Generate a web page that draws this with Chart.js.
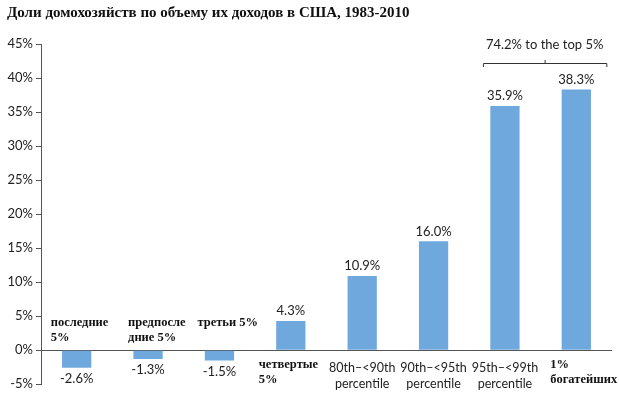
<!DOCTYPE html>
<html>
<head>
<meta charset="utf-8">
<script src="https://cdn.jsdelivr.net/npm/chart.js@4"></script>
<style>
  html, body { margin: 0; padding: 0; background: #fff; overflow: hidden; }
  #wrap { width: 619px; height: 395px; position: relative; }
</style>
</head>
<body>
<div id="wrap"><canvas id="chart"></canvas></div>
<script>
const title = 'Доли домохозяйств по объему их доходов в США, 1983-2010';
const categories = [
  ['последние', '5%'],
  ['предпосле', 'дние 5%'],
  ['третьи 5%'],
  ['четвертые', '5%'],
  ['80th–<90th', 'percentile'],
  ['90th–<95th', 'percentile'],
  ['95th–<99th', 'percentile'],
  ['1%', 'богатейших']
];
const values = [-2.6, -1.3, -1.5, 4.3, 10.9, 16.0, 35.9, 38.3];
const valueLabels = ['-2.6%', '-1.3%', '-1.5%', '4.3%', '10.9%', '16.0%', '35.9%', '38.3%'];
const bracketText = '74.2% to the top 5%';
const bracketFrom = 6, bracketTo = 7;

const sans = 'Lato, "Open Sans", sans-serif';
const serif = '"Liberation Serif", "DejaVu Serif", serif';

// how each category label is placed: serif or sans, above or below the zero line
const labelStyle = [
  { serif: true, above: true, dx: -26 },
  { serif: true, above: true, dx: -20 },
  { serif: true, above: true, dx: -22 },
  { serif: true, above: false, dx: -32 },
  { serif: false, above: false },
  { serif: false, above: false },
  { serif: false, above: false },
  { serif: true, above: false, dx: -26 }
];

const labelsPlugin = {
  id: 'labels',
  afterDraw(chart) {
    const ctx = chart.ctx;
    const x = chart.scales.x, y = chart.scales.y;
    const meta = chart.getDatasetMeta(0);
    const zero = y.getPixelForValue(0);
    ctx.save();

    // title
    ctx.fillStyle = '#111';
    ctx.font = 'bold 15px ' + serif;
    ctx.textAlign = 'left';
    ctx.textBaseline = 'middle';
    ctx.fillText(title, 7, 13);

    // value labels
    ctx.font = '13px ' + sans;
    ctx.fillStyle = '#222';
    ctx.textAlign = 'center';
    meta.data.forEach((bar, i) => {
      const off = values[i] >= 0 ? -10 : 11;
      ctx.fillText(valueLabels[i], bar.x, bar.y + off);
    });

    // category labels
    categories.forEach((lines, i) => {
      const st = labelStyle[i];
      const cx = x.getPixelForValue(i);
      lines.forEach((t, k) => {
        if (st.serif) {
          ctx.font = 'bold 12.5px ' + serif;
          ctx.textAlign = 'left';
          ctx.fillStyle = '#111';
          const ty = st.above ? zero - 27 + k * 15 : zero + 15 + k * 15;
          ctx.fillText(t, cx + st.dx, ty);
        } else {
          ctx.font = '12.5px ' + sans;
          ctx.textAlign = 'center';
          ctx.fillStyle = '#222';
          ctx.fillText(t, cx, zero + 18 + k * 16);
        }
      });
    });

    // bracket over the top 5%
    const a = meta.data[bracketFrom], b = meta.data[bracketTo];
    const x0 = a.x - 22, x1 = b.x + 30, mid = (x0 + x1) / 2, by = 63;
    ctx.strokeStyle = '#333';
    ctx.lineWidth = 1;
    ctx.beginPath();
    ctx.moveTo(x0 + 0.5, by + 4);
    ctx.lineTo(x0 + 0.5, by + 0.5);
    ctx.lineTo(x1 + 0.5, by + 0.5);
    ctx.lineTo(x1 + 0.5, by + 4);
    ctx.moveTo(mid + 0.5, by);
    ctx.lineTo(mid + 0.5, by - 3);
    ctx.stroke();
    ctx.font = '13px ' + sans;
    ctx.fillStyle = '#222';
    ctx.textAlign = 'center';
    ctx.fillText(bracketText, mid, 45);

    ctx.restore();
  }
};

new Chart(document.getElementById('chart'), {
  type: 'bar',
  data: {
    labels: categories,
    datasets: [{
      data: values,
      backgroundColor: '#6fa8dc',
      borderWidth: 0,
      barPercentage: 0.41,
      categoryPercentage: 1
    }]
  },
  options: {
    responsive: true,
    maintainAspectRatio: false,
    animation: false,
    layout: { padding: { top: 44, right: 7, bottom: 0, left: 0 } },
    plugins: {
      legend: { display: false },
      tooltip: { enabled: false }
    },
    scales: {
      x: {
        ticks: { display: false },
        grid: { display: false },
        border: { display: false }
      },
      y: {
        min: -5,
        max: 45,
        afterFit(s) { s.width = 41; },
        ticks: {
          stepSize: 5,
          padding: 3,
          color: '#222',
          font: { family: sans, size: 13 },
          callback: v => v + '%'
        },
        grid: {
          color: c => c.tick && c.tick.value === 0 ? '#555' : 'rgba(0,0,0,0)',
          tickColor: '#555',
          tickLength: 5
        },
        border: { display: true, color: '#555', width: 1 }
      }
    }
  },
  plugins: [labelsPlugin]
});
</script>
</body>
</html>
